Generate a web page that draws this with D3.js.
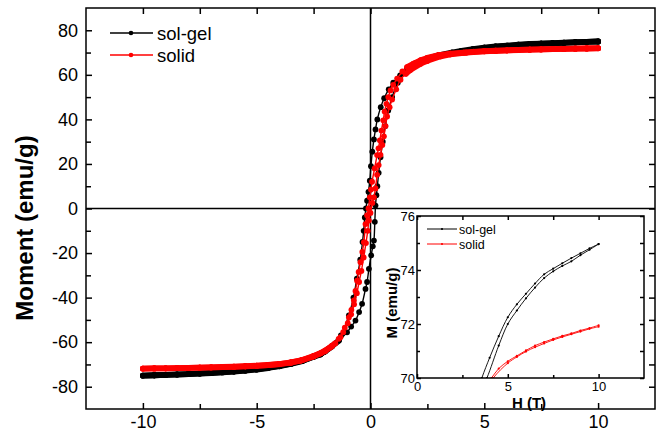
<!DOCTYPE html>
<html>
<head>
<meta charset="utf-8">
<script src="https://cdn.jsdelivr.net/npm/d3@7"></script>
<style>
  body { margin: 0; background: #fff; }
  svg { display: block; font-family: Arial, "Liberation Sans", sans-serif; }
</style>
</head>
<body>
<div id="chart"></div>
<script>

// ---- DATA: [H (T), M (emu/g)] ----

// sol-gel, field going down from +10 to -10
let solgelDown = [
  [10, 74.96], [9.5, 74.8], [9, 74.62], [8.5, 74.44], [8, 74.25], [7.5, 74.05], [7, 73.84],
  [6.5, 73.5], [6, 73.12], [5.5, 72.73], [5, 72.25], [4.5, 71.55], [4, 70.75], [3.57, 70.0],
  [3, 68.8], [2.5, 67.3], [2, 65.2], [1.6, 62.5], [1.3, 59.8], [1.0, 56.5], [0.8, 53.5],
  [0.6, 49.5], [0.45, 45.5], [0.3, 40], [0.22, 35.5], [0.15, 31], [0.08, 25.5], [0.02, 19],
  [-0.03, 12.5], [-0.09, 7.5], [-0.15, 3.5], [-0.2, 0], [-0.25, -4], [-0.3, -10], [-0.35, -15],
  [-0.45, -23], [-0.6, -31.5], [-0.75, -40], [-0.95, -48], [-1.3, -57], [-1.7, -62], [-2.2, -65.5],
  [-2.5, -66.5], [-3, -68.5], [-3.5, -69.8], [-4, -70.8], [-4.5, -71.6], [-5, -72.3], [-5.5, -72.8],
  [-6, -73.2], [-6.5, -73.6], [-7, -73.9], [-7.5, -74.1], [-8, -74.35], [-8.5, -74.55], [-9, -74.7],
  [-9.5, -74.85], [-10, -75.0]
];

// sol-gel, field going up from -10 to +10
let solgelUp = [
  [-10, -75], [-9.5, -74.85], [-9, -74.7], [-8.5, -74.5], [-8, -74.3], [-7.5, -74.05], [-7, -73.8],
  [-6.5, -73.45], [-6, -73.05], [-5.5, -72.6], [-5, -72.1], [-4.5, -71.4], [-4, -70.6], [-3.5, -69.6],
  [-3, -68.3], [-2.5, -66.5], [-2, -64.2], [-1.7, -61.8], [-1.39, -59.3], [-1.03, -55.6], [-0.85, -53],
  [-0.66, -50.3], [-0.5, -46.5], [-0.37, -42.8], [-0.22, -36.1], [-0.15, -33], [-0.07, -27.1],
  [0.03, -21], [0.1, -17], [0.15, -14.4], [0.19, -6], [0.22, 1.3], [0.26, 6], [0.3, 10], [0.36, 16],
  [0.44, 23], [0.54, 30], [0.65, 37], [0.78, 44], [0.95, 50], [1.2, 56.5], [1.5, 60.8], [2, 64.5],
  [2.5, 66.8], [3, 68.4], [3.5, 69.5], [3.85, 70.0], [4.5, 71.2], [5, 72.0], [5.5, 72.5], [6, 72.95],
  [6.5, 73.35], [7, 73.7], [7.5, 73.95], [8, 74.15], [8.5, 74.32], [9, 74.55], [9.5, 74.75], [10, 74.96]
];

// solid, field going down
let solidDown = [
  [10, 71.95], [9.5, 71.85], [9, 71.76], [8.5, 71.65], [8, 71.56], [7.5, 71.45], [7, 71.33],
  [6.5, 71.2], [6, 71.02], [5.5, 70.82], [5, 70.62], [4.5, 70.35], [4.1, 70.0], [3.5, 69.5],
  [3, 68.9], [2.5, 67.6], [2.2, 66.5], [1.9, 65], [1.61, 63.5], [1.4, 61.5], [1.17, 58.3],
  [1.0, 55.5], [0.88, 53], [0.78, 50], [0.7, 47], [0.62, 43.5], [0.56, 39.6], [0.48, 35],
  [0.41, 30.6], [0.35, 27], [0.29, 24], [0.18, 18], [0.07, 12], [0.02, 8.5], [-0.03, 5],
  [-0.09, 0], [-0.15, -3], [-0.22, -7], [-0.29, -15.1], [-0.36, -19.5], [-0.44, -24.1],
  [-0.52, -28.5], [-0.59, -32.4], [-0.66, -37], [-0.73, -41.3], [-0.84, -45.5], [-0.95, -48.9],
  [-1.13, -53.5], [-1.32, -57.8], [-1.55, -60.5], [-1.76, -62.3], [-2.2, -65], [-2.5, -66.2],
  [-3.08, -68.3], [-3.5, -69.2], [-4, -69.9], [-4.5, -70.3], [-5, -70.6], [-5.5, -70.85],
  [-6, -71.05], [-6.5, -71.2], [-7, -71.33], [-7.5, -71.45], [-8, -71.55], [-8.5, -71.65],
  [-9, -71.72], [-9.5, -71.8], [-10, -71.85]
];

// solid, field going up
let solidUp = [
  [-10, -71.85], [-9.5, -71.8], [-9, -71.72], [-8.5, -71.63], [-8, -71.53], [-7.5, -71.42],
  [-7, -71.3], [-6.5, -71.15], [-6, -71.0], [-5.5, -70.8], [-5, -70.55], [-4.5, -70.25],
  [-4, -69.8], [-3.5, -69.1], [-3, -68.0], [-2.5, -66.4], [-2, -64], [-1.7, -61.7], [-1.4, -58.5],
  [-1.2, -55.5], [-1.0, -51.5], [-0.85, -47.5], [-0.72, -43], [-0.6, -38], [-0.5, -33], [-0.4, -28],
  [-0.3, -22], [-0.2, -15.5], [-0.12, -10], [-0.07, -5.4], [0.0, -2], [0.08, 2.5], [0.15, 5],
  [0.22, 9], [0.29, 15.1], [0.36, 19.5], [0.44, 24.1], [0.52, 28.5], [0.59, 32.4], [0.66, 37],
  [0.73, 41.3], [0.84, 45.5], [0.95, 48.9], [1.13, 53.5], [1.32, 57.8], [1.55, 60.5], [1.76, 62.3],
  [2.2, 65], [2.5, 66.3], [3.08, 68.3], [3.5, 69.2], [4.2, 70.0], [5, 70.55], [5.5, 70.78],
  [6, 70.98], [6.5, 71.14], [7, 71.28], [7.5, 71.41], [8, 71.52], [8.5, 71.62], [9, 71.72],
  [9.5, 71.82], [10, 71.9]
];

let seriesNames = ["sol-gel", "solid"];
let seriesColors = ["#000000", "#ff0000"];

let xTicks = [-10, -5, 0, 5, 10];
let xMinor = [-7.5, -2.5, 2.5, 7.5];
let yTicks = [-80, -60, -40, -20, 0, 20, 40, 60, 80];
let yMinor = [-70, -50, -30, -10, 10, 30, 50, 70];

let insetXTicks = [0, 5, 10];
let insetXMinor = [2.5, 7.5];
let insetYTicks = [70, 72, 74, 76];
let insetYMinor = [71, 73, 75];


// ---- CHART AREA ----
let W = 659, H = 432;
let svg = d3.select("#chart").append("svg")
    .attr("width", W)
    .attr("height", H);

let x = d3.scaleLinear().domain([-12.5, 12.5]).range([86, 655]);
let y = d3.scaleLinear().domain([-90, 90]).range([409, 8]);

// inward ticks on all four sides
function frameAxes(g, xs, ys, xt, xm, yt, ym, opt) {
    let [x0, x1] = xs.range(), [y0, y1] = ys.range();
    let fmt = d => d;

    g.append("g").attr("transform", "translate(0," + y0 + ")")
        .call(d3.axisBottom(xs).tickValues(xt).tickFormat(fmt).tickSizeInner(-opt.major).tickSizeOuter(0).tickPadding(opt.padX))
        .call(a => a.selectAll("text").style("font-size", opt.font + "px"));
    g.append("g").attr("transform", "translate(0," + y0 + ")")
        .call(d3.axisBottom(xs).tickValues(xm).tickFormat("").tickSizeInner(-opt.minor).tickSizeOuter(0));
    g.append("g").attr("transform", "translate(0," + y1 + ")")
        .call(d3.axisTop(xs).tickValues(xt.concat(xm)).tickFormat("").tickSizeInner(-opt.major).tickSizeOuter(0));

    g.append("g").attr("transform", "translate(" + x0 + ",0)")
        .call(d3.axisLeft(ys).tickValues(yt).tickFormat(fmt).tickSizeInner(-opt.major).tickSizeOuter(0).tickPadding(opt.padY))
        .call(a => a.selectAll("text").style("font-size", opt.font + "px"));
    g.append("g").attr("transform", "translate(" + x0 + ",0)")
        .call(d3.axisLeft(ys).tickValues(ym).tickFormat("").tickSizeInner(-opt.minor).tickSizeOuter(0));
    g.append("g").attr("transform", "translate(" + x1 + ",0)")
        .call(d3.axisRight(ys).tickValues(yt.concat(ym)).tickFormat("").tickSizeInner(-opt.major).tickSizeOuter(0));

    g.selectAll(".domain").remove();
    g.selectAll(".tick line").attr("stroke", "#000").attr("stroke-width", opt.sw);
    g.selectAll(".tick text").attr("fill", "#000").style("font-family", "Arial, 'Liberation Sans', sans-serif");

    g.append("rect")
        .attr("x", x0).attr("y", y1)
        .attr("width", x1 - x0).attr("height", y0 - y1)
        .attr("fill", "none").attr("stroke", "#000").attr("stroke-width", opt.sw);
}

// one branch: thin line + markers; where the measured points crowd together
// (slow change with field) the markers merge into a solid band
function drawBranch(g, data, color, xs, ys, r, lw, band) {
    g.append("path")
        .datum(data)
        .attr("fill", "none")
        .attr("stroke", color)
        .attr("stroke-width", lw)
        .attr("d", d3.line().curve(d3.curveCatmullRom).x(d => xs(d[0])).y(d => ys(d[1])));

    if (band) {
        for (let i = 1; i < data.length; i++) {
            let a = data[i - 1], b = data[i];
            let dx = xs(b[0]) - xs(a[0]), dy = ys(b[1]) - ys(a[1]);
            let len = Math.sqrt(dx * dx + dy * dy);
            let steps = Math.abs(b[0] - a[0]) / 0.25;
            if (steps > 0 && len / steps < 7.5) {
                g.append("line")
                    .attr("x1", xs(a[0])).attr("y1", ys(a[1]))
                    .attr("x2", xs(b[0])).attr("y2", ys(b[1]))
                    .attr("stroke", color)
                    .attr("stroke-width", 2 * r)
                    .attr("stroke-linecap", "round");
            }
        }
    }

    g.selectAll(null)
        .data(data)
        .enter()
        .append("circle")
        .attr("cx", d => xs(d[0]))
        .attr("cy", d => ys(d[1]))
        .attr("r", r)
        .attr("fill", color);
}


// ---- MAIN PLOT ----
let main = svg.append("g");

// zero lines
main.append("line")
    .attr("x1", x(0)).attr("x2", x(0)).attr("y1", y(-90)).attr("y2", y(90))
    .attr("stroke", "#000").attr("stroke-width", 1.5);
main.append("line")
    .attr("x1", x(-12.5)).attr("x2", x(12.5)).attr("y1", y(0)).attr("y2", y(0))
    .attr("stroke", "#000").attr("stroke-width", 1.5);

let mainSets = [[solgelDown, solgelUp], [solidDown, solidUp]];
mainSets.forEach((set, i) => {
    set.forEach(branch => drawBranch(main, branch, seriesColors[i], x, y, 2.9, 1.4, true));
});

frameAxes(main, x, y, xTicks, xMinor, yTicks, yMinor,
    {major: 6, minor: 5, font: 18, padX: 6, padY: 8, sw: 1.5});

main.append("text")
    .attr("transform", "translate(33," + 228 + ") rotate(-90)")
    .attr("text-anchor", "middle")
    .style("font-size", "24px")
    .style("font-weight", "bold")
    .text("Moment (emu/g)");

// legend
seriesNames.forEach((name, i) => {
    let ly = 33 + i * 22;
    main.append("line")
        .attr("x1", 110).attr("x2", 153).attr("y1", ly).attr("y2", ly)
        .attr("stroke", seriesColors[i]).attr("stroke-width", 1.5);
    main.append("circle")
        .attr("cx", 131).attr("cy", ly).attr("r", 2.3)
        .attr("fill", seriesColors[i]);
    main.append("text")
        .attr("x", 157).attr("y", ly + 6.5)
        .style("font-size", "18.5px")
        .text(name);
});


// ---- INSET ----
let xi = d3.scaleLinear().domain([0, 12.5]).range([417, 644]);
let yi = d3.scaleLinear().domain([70, 76]).range([378, 216]);

let inset = svg.append("g");
inset.append("rect")
    .attr("x", 417).attr("y", 216).attr("width", 644 - 417).attr("height", 378 - 216)
    .attr("fill", "#fff");

svg.append("clipPath").attr("id", "insetClip")
    .append("rect")
    .attr("x", 417).attr("y", 216).attr("width", 644 - 417).attr("height", 378 - 216);

let insetData = inset.append("g").attr("clip-path", "url(#insetClip)");
mainSets.forEach((set, i) => {
    set.forEach(branch => drawBranch(insetData, branch, seriesColors[i], xi, yi, 1.1, 0.9, false));
});

frameAxes(inset, xi, yi, insetXTicks, insetXMinor, insetYTicks, insetYMinor,
    {major: 4, minor: 3, font: 13, padX: 4, padY: 2, sw: 1.5});

inset.append("text")
    .attr("transform", "translate(397," + 303 + ") rotate(-90)")
    .attr("text-anchor", "middle")
    .style("font-size", "15px")
    .style("font-weight", "bold")
    .text("M (emu/g)");

inset.append("text")
    .attr("x", 529).attr("y", 408)
    .attr("text-anchor", "middle")
    .style("font-size", "15px")
    .style("font-weight", "bold")
    .text("H (T)");

seriesNames.forEach((name, i) => {
    let ly = 229 + i * 15;
    inset.append("line")
        .attr("x1", 427).attr("x2", 457).attr("y1", ly).attr("y2", ly)
        .attr("stroke", seriesColors[i]).attr("stroke-width", 1);
    inset.append("circle")
        .attr("cx", 442).attr("cy", ly).attr("r", 1.1)
        .attr("fill", seriesColors[i]);
    inset.append("text")
        .attr("x", 459).attr("y", ly + 4.5)
        .style("font-size", "12.5px")
        .text(name);
});

</script>
</body>
</html>
